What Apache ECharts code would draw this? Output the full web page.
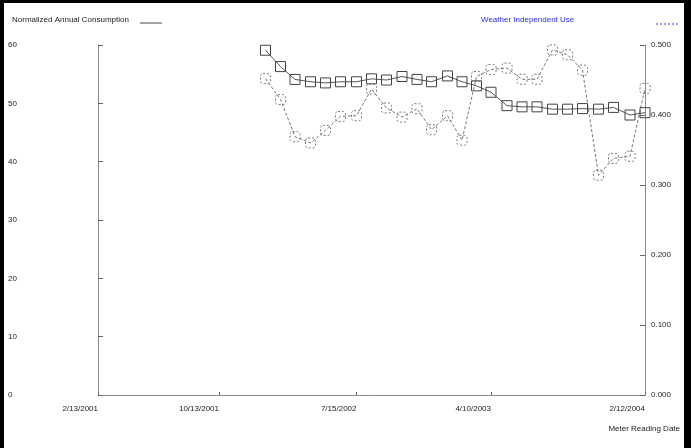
<!DOCTYPE html>
<html>
<head>
<meta charset="utf-8">
<script src="https://cdn.jsdelivr.net/npm/echarts@6/dist/echarts.min.js"></script>
<style>
  html, body { margin: 0; padding: 0; background: #ffffff; }
  #chart { width: 691px; height: 448px; }
</style>
</head>
<body>
<div id="chart"></div>
<script>
// Monthly meter readings (M/D/YYYY)
const readingDates = [
  '1/14/2002', '2/13/2002', '3/14/2002', '4/14/2002', '5/14/2002', '6/13/2002',
  '7/15/2002', '8/14/2002', '9/13/2002', '10/14/2002', '11/13/2002', '12/12/2002',
  '1/13/2003', '2/11/2003', '3/12/2003', '4/10/2003', '5/12/2003', '6/11/2003',
  '7/11/2003', '8/11/2003', '9/10/2003', '10/10/2003', '11/11/2003', '12/11/2003',
  '1/13/2004', '2/12/2004'
];

// Left axis series
const annualConsumption = [
  59.1, 56.3, 54.1, 53.7, 53.5, 53.7,
  53.7, 54.2, 54.0, 54.6, 54.1, 53.7,
  54.7, 53.7, 53.0, 51.9, 49.6, 49.4,
  49.4, 49.0, 49.0, 49.1, 49.0, 49.3,
  48.0, 48.4
];

// Right axis series
const weatherIndependentUse = [
  0.452, 0.422, 0.369, 0.360, 0.378, 0.398,
  0.399, 0.437, 0.410, 0.397, 0.409, 0.379,
  0.399, 0.364, 0.455, 0.465, 0.467, 0.451,
  0.451, 0.493, 0.486, 0.464, 0.314, 0.338,
  0.341, 0.438
];

// Date axis range and labelled dates
const dateRange = ['2/13/2001', '2/12/2004'];
const dateTicks = ['2/13/2001', '10/13/2001', '7/15/2002', '4/10/2003', '2/12/2004'];

const seriesNames = ['Normalized Annual Consumption', 'Weather Independent Use'];
const xAxisName = 'Meter Reading Date';

function toTime(s) {
  const p = s.split('/').map(Number);
  return Date.UTC(p[2], p[0] - 1, p[1]);
}
function fmtDate(t) {
  const d = new Date(t);
  return (d.getUTCMonth() + 1) + '/' + d.getUTCDate() + '/' + d.getUTCFullYear();
}

const FONT = 'Liberation Sans';
const AXIS_GREY = '#8a8a8a';

const chart = echarts.init(document.getElementById('chart'), null, { renderer: 'canvas' });

chart.setOption({
  animation: false,
  backgroundColor: '#ffffff',
  grid: { left: 98, right: 46, top: 45, bottom: 53 },
  xAxis: {
    type: 'value',
    min: toTime(dateRange[0]),
    max: toTime(dateRange[1]),
    splitLine: { show: false },
    axisLine: { show: true, lineStyle: { color: AXIS_GREY, width: 1 } },
    axisTick: {
      show: true, inside: true, length: 3,
      customValues: dateTicks.map(toTime),
      lineStyle: { color: '#666' }
    },
    axisLabel: {
      customValues: dateTicks.map(toTime),
      formatter: v => fmtDate(v),
      align: 'right',
      margin: 10,
      fontFamily: FONT, fontSize: 8, color: '#222'
    },
    name: xAxisName,
    nameLocation: 'end',
    nameGap: 0,
    nameTextStyle: {
      fontFamily: FONT, fontSize: 8, color: '#222',
      align: 'right', verticalAlign: 'top', padding: [30, -35, 0, 0]
    }
  },
  yAxis: [
    {
      type: 'value', min: 0, max: 60, interval: 10,
      splitLine: { show: false },
      axisLine: { show: true, lineStyle: { color: AXIS_GREY, width: 1 } },
      axisTick: { show: true, inside: true, length: 5, lineStyle: { color: '#666' } },
      axisLabel: {
        align: 'left', margin: 90,
        fontFamily: FONT, fontSize: 8, color: '#222'
      }
    },
    {
      type: 'value', min: 0, max: 0.5, interval: 0.1, position: 'right',
      splitLine: { show: false },
      axisLine: { show: true, lineStyle: { color: AXIS_GREY, width: 1 } },
      axisTick: { show: true, inside: true, length: 5, lineStyle: { color: '#666' } },
      axisLabel: {
        align: 'left', margin: 6,
        formatter: v => v.toFixed(3),
        fontFamily: FONT, fontSize: 8, color: '#222'
      }
    }
  ],
  series: [
    {
      name: seriesNames[0],
      type: 'line',
      yAxisIndex: 0,
      data: readingDates.map((d, i) => [toTime(d), annualConsumption[i]]),
      symbol: 'rect',
      symbolSize: 10,
      lineStyle: { color: '#555', width: 1 },
      itemStyle: { color: 'rgba(255,255,255,0)', borderColor: '#444', borderWidth: 1 },
      z: 3
    },
    {
      name: seriesNames[1],
      type: 'line',
      yAxisIndex: 1,
      data: readingDates.map((d, i) => [toTime(d), weatherIndependentUse[i]]),
      symbol: 'roundRect',
      symbolSize: 10,
      lineStyle: { color: '#777', width: 1, type: [3, 2] },
      itemStyle: { color: 'rgba(255,255,255,0)', borderColor: '#777', borderWidth: 1, borderType: [2, 2] },
      z: 2
    }
  ],
  graphic: [
    // frame edges
    { type: 'rect', left: 0, top: 0, shape: { width: 4, height: 448 }, style: { fill: '#000' }, silent: true },
    { type: 'rect', left: 0, top: 0, shape: { width: 691, height: 3 }, style: { fill: '#000' }, silent: true },
    { type: 'rect', left: 684, top: 0, shape: { width: 7, height: 448 }, style: { fill: '#000' }, silent: true },
    // legend entries
    { type: 'text', left: 12, top: 16, style: { text: seriesNames[0], font: '8px ' + FONT, fill: '#222' } },
    { type: 'line', shape: { x1: 140, y1: 23, x2: 162, y2: 23 }, style: { stroke: '#444', lineWidth: 1 } },
    { type: 'text', left: 481, top: 16, style: { text: seriesNames[1], font: '8px ' + FONT, fill: '#2a2aff' } },
    { type: 'line', shape: { x1: 656, y1: 24, x2: 680, y2: 24 }, style: { stroke: '#3a3aff', lineWidth: 1, lineDash: [2, 2] } }
  ]
});
</script>
</body>
</html>
